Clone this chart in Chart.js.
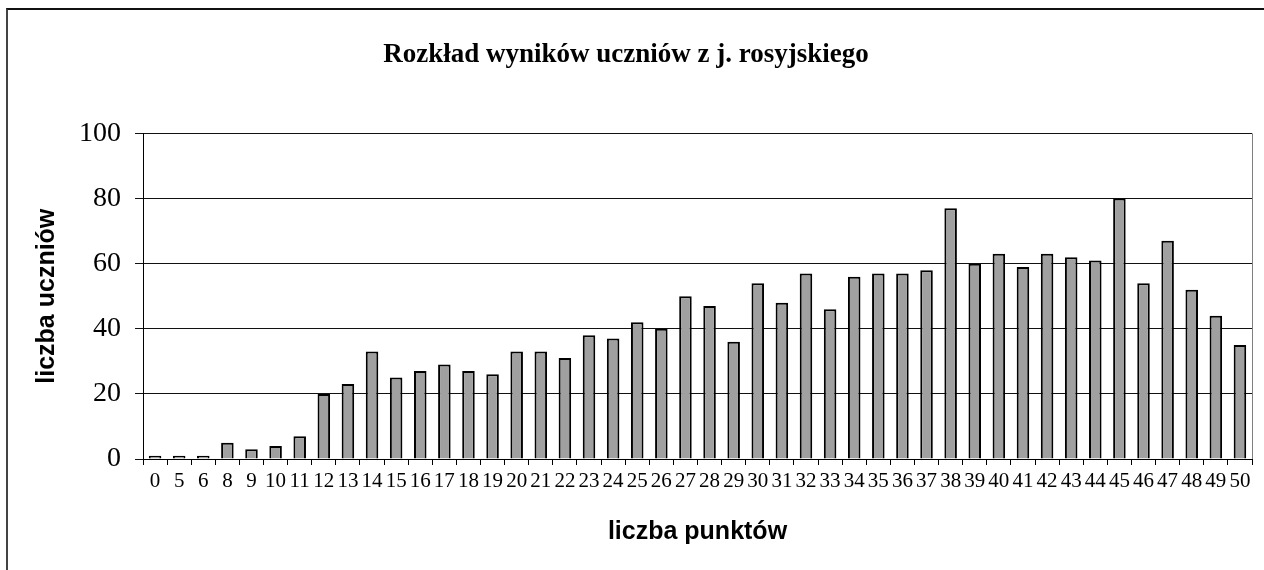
<!DOCTYPE html>
<html>
<head>
<meta charset="utf-8">
<script src="https://cdn.jsdelivr.net/npm/chart.js@4/dist/chart.umd.min.js"></script>
<style>
  html, body { margin: 0; padding: 0; background: #fff; overflow: hidden; }
  #wrap { position: relative; width: 1264px; height: 570px; }
  #frame { position: absolute; left: 6px; top: 8px; width: 1400px; height: 700px;
           border-left: 2px solid #444; border-top: 2px solid #111; }
  #myChart { position: absolute; left: 0; top: 0; }
</style>
</head>
<body>
<div id="wrap">
  <div id="frame"></div>
  <canvas id="myChart" width="1264" height="570"></canvas>
</div>
<script>
// punkty (categories on the x axis)
let points = ['0','5','6','8','9','10','11','12','13','14','15','16','17','18','19','20','21','22','23','24',
  '25','26','27','28','29','30','31','32','33','34','35','36','37','38','39','40','41','42','43','44',
  '45','46','47','48','49','50']

// liczba uczniów for each score
let students = [1,1,1,5,3,4,7,20,23,33,25,27,29,27,26,33,33,31,38,37,
  42,40,50,47,36,54,48,57,46,56,57,57,58,77,60,63,59,63,62,61,
  80,54,67,52,44,35]

let yTicks = [0,20,40,60,80,100]

let chartTitle = 'Rozkład wyników uczniów z j. rosyjskiego'
let xTitle = 'liczba punktów'
let yTitle = 'liczba uczniów'

const serif = '"Liberation Serif", "Times New Roman", serif'
const sans = '"Liberation Sans", Arial, sans-serif'

// gray line on the right side of the plot area
const rightEdge = {
  id: 'rightEdge',
  afterDraw(chart) {
    const a = chart.chartArea
    const c = chart.ctx
    c.save()
    c.strokeStyle = '#808080'
    c.lineWidth = 1
    c.beginPath()
    c.moveTo(Math.round(a.right) + 0.5, a.top)
    c.lineTo(Math.round(a.right) + 0.5, a.bottom)
    c.stroke()
    c.restore()
  }
}

let canvas = document.getElementById('myChart')
let ctx = canvas.getContext('2d')
let myChart = new Chart(ctx, {
  type: 'bar',
  data: {
    labels: points,
    datasets: [{
      label: yTitle,
      data: students,
      backgroundColor: '#a0a0a0',
      borderColor: '#000000',
      borderWidth: 2,
      barPercentage: 0.52,
      categoryPercentage: 1
    }]
  },
  options: {
    responsive: false,
    animation: false,
    layout: { padding: { left: 0, right: 12, top: 0, bottom: 0 } },
    plugins: {
      legend: { display: false },
      tooltip: { enabled: false },
      title: {
        display: true,
        text: chartTitle,
        color: '#000',
        font: { family: serif, size: 27, weight: 'bold' },
        padding: { top: 39, bottom: 62 }
      }
    },
    scales: {
      x: {
        grid: { display: true, drawOnChartArea: false, drawTicks: true, tickLength: 6, color: '#000', offset: true },
        border: { display: true, color: '#000', width: 1 },
        ticks: { color: '#000', font: { family: serif, size: 21 }, padding: 4, autoSkip: false, maxRotation: 0 },
        title: { display: true, text: xTitle, color: '#000', font: { family: sans, size: 25, weight: 'bold' },
                 padding: { top: 0, bottom: 23 } },
        afterFit(scale) { scale.height = 111 }
      },
      y: {
        min: 0,
        max: 100,
        afterBuildTicks(scale) { scale.ticks = yTicks.map(v => ({ value: v })) },
        grid: { color: '#111', lineWidth: 1, tickLength: 8, drawTicks: true },
        border: { display: true, color: '#000', width: 1 },
        ticks: { color: '#000', font: { family: serif, size: 28 }, padding: 14 },
        title: { display: true, text: yTitle, color: '#000', font: { family: sans, size: 25, weight: 'bold' },
                 padding: { top: 32, bottom: 0 } },
        afterFit(scale) { scale.width = 143 }
      }
    }
  },
  plugins: [rightEdge]
})
</script>
</body>
</html>
